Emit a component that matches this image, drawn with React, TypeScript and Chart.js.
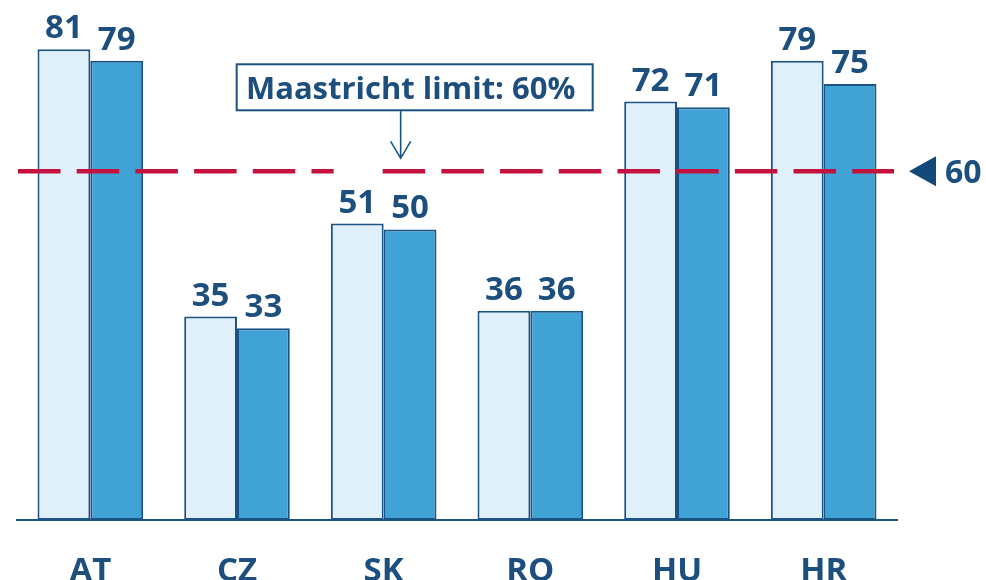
import React, { useEffect, useRef } from "react";
import { Chart, registerables } from "chart.js";

Chart.register(...registerables);

const categories = ["AT", "CZ", "SK", "RO", "HU", "HR"];
const seriesA = [81, 35, 51, 36, 72, 79];
const seriesB = [79, 33, 50, 36, 71, 75];
const limitValue = 60;
const limitLabel = "Maastricht limit: 60%";
const limitTick = "60";
const yMin = 0;
const yMax = 85;

const FONT = '"Open Sans", "DejaVu Sans", sans-serif';
const TEXT = "#1c4f7e";
const BORDER = "#1b5384";
const LIGHT = "#dff0fb";
const MID = "#41a3d5";
const RED = "#c4123f";

const overlay = {
  id: "overlay",
  afterDatasetsDraw(chart: any) {
    const { ctx, chartArea } = chart;
    const xs = chart.scales.x;
    const ys = chart.scales.y;
    const yLim = ys.getPixelForValue(limitValue);
    const arrowX = xs.getPixelForValue(2) + 17;

    ctx.save();
    // dashed limit line (two segments, gap left of the arrow)
    ctx.strokeStyle = RED;
    ctx.lineWidth = 4.5;
    ctx.setLineDash([42.5, 16.2]);
    ctx.beginPath();
    ctx.moveTo(chartArea.left + 1, yLim);
    ctx.lineTo(arrowX - 67, yLim);
    ctx.stroke();
    ctx.beginPath();
    ctx.moveTo(arrowX - 18, yLim);
    ctx.lineTo(chartArea.right - 3, yLim);
    ctx.stroke();
    ctx.setLineDash([]);

    // annotation box
    const boxW = 356;
    const boxH = 46;
    const boxCx = arrowX + 14;
    const boxTop = yLim - 107;
    ctx.fillStyle = "#ffffff";
    ctx.fillRect(boxCx - boxW / 2, boxTop, boxW, boxH);
    ctx.strokeStyle = BORDER;
    ctx.lineWidth = 2;
    ctx.strokeRect(boxCx - boxW / 2, boxTop, boxW, boxH);
    ctx.fillStyle = TEXT;
    ctx.font = `bold 31px ${FONT}`;
    ctx.textAlign = "center";
    ctx.textBaseline = "alphabetic";
    ctx.fillText(limitLabel, boxCx - 4, boxTop + 35);

    // arrow
    const tipY = yLim - 13;
    ctx.strokeStyle = BORDER;
    ctx.lineWidth = 1.6;
    ctx.beginPath();
    ctx.moveTo(arrowX, boxTop + boxH);
    ctx.lineTo(arrowX, tipY);
    ctx.moveTo(arrowX - 10, tipY - 17);
    ctx.lineTo(arrowX, tipY);
    ctx.lineTo(arrowX + 10, tipY - 17);
    ctx.stroke();

    // right marker
    const triX = chartArea.right + 12;
    ctx.fillStyle = "#12497a";
    ctx.beginPath();
    ctx.moveTo(triX, yLim);
    ctx.lineTo(triX + 27, yLim - 15);
    ctx.lineTo(triX + 27, yLim + 15);
    ctx.closePath();
    ctx.fill();
    ctx.fillStyle = TEXT;
    ctx.font = `bold 32px ${FONT}`;
    ctx.textAlign = "left";
    ctx.fillText(limitTick, triX + 36, yLim + 12);

    // value labels
    ctx.textAlign = "center";
    ctx.font = `bold 33px ${FONT}`;
    chart.data.datasets.forEach((ds: any, di: number) => {
      const meta = chart.getDatasetMeta(di);
      meta.data.forEach((el: any, i: number) => {
        ctx.fillText(String(ds.data[i]), el.x, el.y - 11);
      });
    });

    // category labels
    categories.forEach((c, i) => {
      ctx.fillText(c, xs.getPixelForValue(i), chartArea.bottom + 61);
    });
    ctx.restore();
  },
};

export default function App() {
  const ref = useRef<HTMLCanvasElement | null>(null);
  useEffect(() => {
    document.body.style.margin = "0";
    const canvas = ref.current;
    if (!canvas) return;
    const chart = new Chart(canvas, {
      type: "bar",
      data: {
        labels: categories,
        datasets: [
          {
            data: seriesA,
            backgroundColor: LIGHT,
            borderColor: BORDER,
            borderWidth: 2,
            borderSkipped: false,
          },
          {
            data: seriesB,
            backgroundColor: MID,
            borderColor: BORDER,
            borderWidth: 2,
            borderSkipped: false,
          },
        ],
      },
      options: {
        responsive: false,
        animation: false,
        layout: { padding: { left: 17, right: 89, top: 26, bottom: 52 } },
        datasets: { bar: { barPercentage: 1, categoryPercentage: 0.72 } },
        plugins: { legend: { display: false }, tooltip: { enabled: false } },
        scales: {
          x: {
            grid: { display: false },
            ticks: { display: false },
            border: { display: true, color: BORDER, width: 2 },
          },
          y: { display: false, min: yMin, max: yMax },
        },
      },
      plugins: [overlay],
    } as any);
    return () => chart.destroy();
  }, []);
  return (
    <div style={{ width: 986, height: 580, background: "#fff" }}>
      <canvas ref={ref} width={986} height={580} style={{ display: "block" }} />
    </div>
  );
}
